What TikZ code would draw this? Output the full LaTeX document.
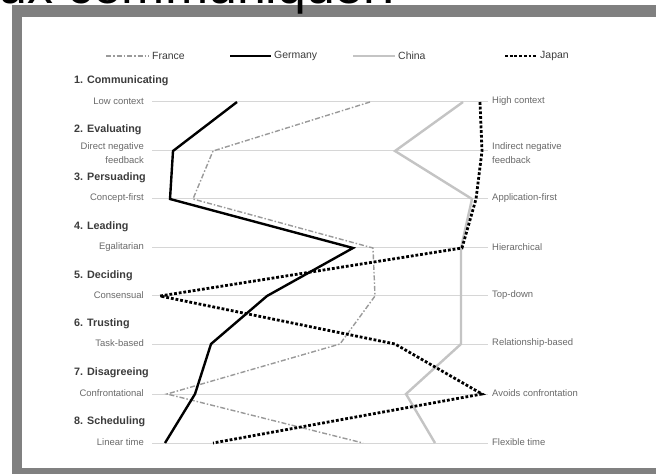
\documentclass[tikz,border=0pt]{standalone}
\usepackage{fontspec}
\setmainfont{Liberation Sans}
\definecolor{framegray}{HTML}{808080}
\definecolor{scalegray}{HTML}{D6D6D6}
\definecolor{labelgray}{HTML}{6A6A6A}
\definecolor{headgray}{HTML}{3C3C3C}
\definecolor{chinagray}{HTML}{C4C4C4}
\definecolor{francegray}{HTML}{9A9A9A}
\tikzset{
  scaleline/.style={draw=scalegray, line width=1bp},
  leftlab/.style={anchor=east, inner sep=0pt, text=labelgray, font=\fontsize{9.5}{11}\selectfont},
  rightlab/.style={anchor=west, inner sep=0pt, text=labelgray, font=\fontsize{9.5}{11}\selectfont},
  headlab/.style={anchor=west, inner sep=0pt, text=headgray, font=\bfseries\fontsize{10.8}{12}\selectfont},
  legtext/.style={anchor=west, inner sep=0pt, text=headgray, font=\fontsize{10.5}{12}\selectfont},
  germanyline/.style={draw=black, line width=2.4bp, line join=miter},
  chinaline/.style={draw=chinagray, line width=2.4bp, line join=miter},
  japanline/.style={draw=black, line width=2.8bp, dash pattern=on 2.8bp off 1.9bp},
  franceline/.style={draw=francegray, line width=1.4bp, dash pattern=on 5bp off 2bp on 1.5bp off 2bp},
}
\begin{document}
\begin{tikzpicture}[x=1bp,y=-1bp]
\useasboundingbox (0,0) rectangle (656,474);
\clip (0,0) rectangle (656,474);
% frame
\fill[framegray] (12,5) rectangle (662,480);
\fill[white] (22,17) rectangle (662,468);
\node[anchor=base west, inner sep=0pt, font=\fontsize{52}{52}\selectfont] (title) at (-2,4) {ux communiquer:};

% legend
\coordinate (fa) at (106,56); \coordinate (fb) at (149,56);
\coordinate (ga) at (230,56); \coordinate (gb) at (271,56);
\coordinate (ca) at (353,56); \coordinate (cb) at (395,56);
\coordinate (ja) at (505,56); \coordinate (jb) at (536,56);
\draw[franceline] (fa) -- (fb);
\draw[germanyline] (ga) -- (gb);
\draw[chinaline] (ca) -- (cb);
\draw[japanline] (ja) -- (jb);
\node[legtext] (lfr) at (152,56) {France};
\node[legtext] (lge) at (274,56) {Germany};
\node[legtext] (lch) at (398,56) {China};
\node[legtext] (lja) at (540,56) {Japan};

% scale lines
\coordinate (L1) at (152,102); \coordinate (R1) at (488,102);
\coordinate (L2) at (152,151); \coordinate (R2) at (488,151);
\coordinate (L3) at (152,199); \coordinate (R3) at (488,199);
\coordinate (L4) at (152,248); \coordinate (R4) at (488,248);
\coordinate (L5) at (152,296); \coordinate (R5) at (488,296);
\coordinate (L6) at (152,344); \coordinate (R6) at (488,344);
\coordinate (L7) at (152,394); \coordinate (R7) at (488,394);
\coordinate (L8) at (152,443); \coordinate (R8) at (488,443);
\foreach \i in {1,...,8} { \draw[scaleline] (L\i) -- (R\i); }

% headings
\node[headlab] (h1) at (74,81) {1. Communicating};
\node[headlab] (h2) at (74,130) {2. Evaluating};
\node[headlab] (h3) at (74,178) {3. Persuading};
\node[headlab] (h4) at (74,227) {4. Leading};
\node[headlab] (h5) at (74,276) {5. Deciding};
\node[headlab] (h6) at (74,324) {6. Trusting};
\node[headlab] (h7) at (74,373) {7. Disagreeing};
\node[headlab] (h8) at (74,422) {8. Scheduling};

% left labels
\node[leftlab] (a1) at (144,101) {Low context};
\node[leftlab] (a2) at (144,147) {Direct negative};
\node[leftlab] (a2b) at (144,160) {feedback};
\node[leftlab] (a3) at (144,198) {Concept-first};
\node[leftlab] (a4) at (144,247) {Egalitarian};
\node[leftlab] (a5) at (144,295) {Consensual};
\node[leftlab] (a6) at (144,343) {Task-based};
\node[leftlab] (a7) at (144,393) {Confrontational};
\node[leftlab] (a8) at (144,442) {Linear time};

% right labels
\node[rightlab] (b1) at (492,101) {High context};
\node[rightlab] (b2) at (492,147) {Indirect negative};
\node[rightlab] (b2b) at (492,160) {feedback};
\node[rightlab] (b3) at (492,198) {Application-first};
\node[rightlab] (b4) at (492,247) {Hierarchical};
\node[rightlab] (b5) at (492,295) {Top-down};
\node[rightlab] (b6) at (492,343) {Relationship-based};
\node[rightlab] (b7) at (492,393) {Avoids confrontation};
\node[rightlab] (b8) at (492,442) {Flexible time};

% data points
\coordinate (c1) at (463,102); \coordinate (c2) at (395,151); \coordinate (c3) at (472,199);
\coordinate (c4) at (461,248); \coordinate (c5) at (461,296); \coordinate (c6) at (461,344);
\coordinate (c7) at (406,394); \coordinate (c8) at (435,443);

\coordinate (f1) at (370,102); \coordinate (f2) at (213,151); \coordinate (f3) at (193,199);
\coordinate (f4) at (373,248); \coordinate (f5) at (375,296); \coordinate (f6) at (340,344);
\coordinate (f7) at (167,394); \coordinate (f8) at (363,443);

\coordinate (g1) at (237,102); \coordinate (g2) at (173,151); \coordinate (g3) at (170,199);
\coordinate (g4) at (353,248); \coordinate (g5) at (267,296); \coordinate (g6) at (211,344);
\coordinate (g7) at (195,394); \coordinate (g8) at (165,443);

\coordinate (j1) at (480,102); \coordinate (j2) at (482,151); \coordinate (j3) at (476,199);
\coordinate (j4) at (462,248); \coordinate (j5) at (160,296); \coordinate (j6) at (395,344);
\coordinate (j7) at (482,394); \coordinate (j8) at (213,443);

\draw[chinaline] (c1) -- (c2) -- (c3) -- (c4) -- (c5) -- (c6) -- (c7) -- (c8);
\draw[franceline] (f1) -- (f2) -- (f3) -- (f4) -- (f5) -- (f6) -- (f7) -- (f8);
\draw[germanyline] (g1) -- (g2) -- (g3) -- (g4) -- (g5) -- (g6) -- (g7) -- (g8);
\draw[japanline] (j1) -- (j2) -- (j3) -- (j4) -- (j5) -- (j6) -- (j7) -- (j8);
\end{tikzpicture}
\end{document}
